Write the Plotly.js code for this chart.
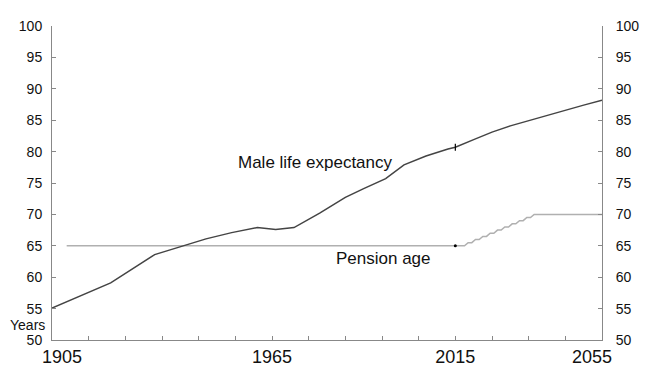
<!DOCTYPE html>
<html>
<head>
<meta charset="utf-8">
<script src="https://cdn.plot.ly/plotly-3.0.1.min.js"></script>
<style>html,body{margin:0;padding:0;background:#fff;}#chart{width:650px;height:366px;}</style>
</head>
<body>
<div id="chart"></div>
<script>
// Male life expectancy (years)
var lifeYears = [1905, 1921, 1933, 1941, 1947, 1954, 1961, 1966, 1971, 1978, 1985, 1990, 1996, 2001, 2007, 2013, 2015, 2020, 2025, 2030, 2035, 2040, 2045, 2050, 2055];
var lifeValues = [55.1, 59.1, 63.6, 65.0, 66.1, 67.1, 67.9, 67.6, 67.9, 70.2, 72.7, 74.1, 75.7, 77.9, 79.3, 80.4, 80.7, 81.9, 83.1, 84.1, 84.95, 85.8, 86.6, 87.4, 88.2];
// Pension age (years), stepping up half a year at a time
var pensionYears = [1909, 2017.5, 2018.5, 2019.5, 2020.5, 2021.5, 2022.5, 2023.5, 2024.5, 2025.5, 2026.5, 2027.5, 2028.5, 2029.5, 2030.5, 2031.5, 2032.5, 2033.5, 2034.5, 2035.5, 2036.5, 2055];
var pensionValues = [65, 65, 65.5, 65.5, 66, 66, 66.5, 66.5, 67, 67, 67.5, 67.5, 68, 68, 68.5, 68.5, 69, 69, 69.5, 69.5, 70, 70];
// 2015 join markers
var joinYear = [2015];
var joinLife = [80.7];
var joinPension = [65];
// axis ticks
var xTickVals = [1905, 1915, 1925, 1935, 1945, 1955, 1965, 1975, 1985, 1995, 2005, 2015, 2025, 2035, 2045, 2055];
var xTickText = ['\u00a0\u00a0\u00a0\u00a01905', '', '', '', '', '', '1965', '', '', '', '', '2015', '', '', '', '2055\u00a0\u00a0\u00a0\u00a0'];
var yTickVals = [50, 55, 60, 65, 70, 75, 80, 85, 90, 95, 100];

var font = 'Liberation Sans, Arial, sans-serif';

var traces = [
  {x: pensionYears, y: pensionValues, type: 'scatter', mode: 'lines', line: {color: '#b0b0b0', width: 1.5}, hoverinfo: 'skip'},
  {x: lifeYears, y: lifeValues, type: 'scatter', mode: 'lines', line: {color: '#444444', width: 1.5}, hoverinfo: 'skip'},
  {x: joinYear, y: joinLife, type: 'scatter', mode: 'markers', marker: {symbol: 'line-ns', size: 5, line: {color: '#000', width: 1.2}}, hoverinfo: 'skip'},
  {x: joinYear, y: joinPension, type: 'scatter', mode: 'markers', marker: {symbol: 'circle', size: 3, color: '#000'}, hoverinfo: 'skip'},
  {x: [1905], y: [50], yaxis: 'y2', type: 'scatter', mode: 'markers', marker: {opacity: 0}, hoverinfo: 'skip'}
];

var yCommon = {
  range: [50, 100], tickvals: yTickVals, ticks: 'inside', ticklen: 4, tickcolor: '#888',
  showline: true, linecolor: '#888', linewidth: 1, showgrid: false, zeroline: false,
  tickfont: {family: font, size: 14, color: '#111'}, fixedrange: true
};

var layout = {
  width: 650, height: 366,
  margin: {l: 52, r: 48, t: 26, b: 26},
  paper_bgcolor: '#fff', plot_bgcolor: '#fff',
  showlegend: false,
  font: {family: font, color: '#111'},
  xaxis: {
    range: [1905, 2055], tickvals: xTickVals, ticktext: xTickText,
    ticks: 'inside', ticklen: 4, tickcolor: '#888',
    showline: true, linecolor: '#888', linewidth: 1, showgrid: false, zeroline: false,
    tickfont: {family: font, size: 18, color: '#111'}
  },
  yaxis: Object.assign({}, yCommon, {side: 'left', ticklabelstandoff: 6}),
  yaxis2: Object.assign({}, yCommon, {side: 'right', overlaying: 'y', ticklabelstandoff: 10}),
  annotations: [
    {text: 'Male life expectancy', x: 315, y: 162, xref: 'paper', yref: 'paper', showarrow: false, font: {family: font, size: 17, color: '#111'}},
    {text: 'Pension age', x: 383, y: 258, xref: 'paper', yref: 'paper', showarrow: false, font: {family: font, size: 17, color: '#111'}},
    {text: 'Years', x: 27, y: 325, xref: 'paper', yref: 'paper', showarrow: false, font: {family: font, size: 14, color: '#111'}}
  ]
};
// convert pixel-placed annotation positions to paper coordinates
layout.annotations.forEach(function(a){
  a.x = (a.x - 52) / 550;
  a.y = (340 - a.y) / 314;
  a.xanchor = 'center'; a.yanchor = 'middle';
});

Plotly.newPlot('chart', traces, layout, {displayModeBar: false, staticPlot: true});
</script>
</body>
</html>
